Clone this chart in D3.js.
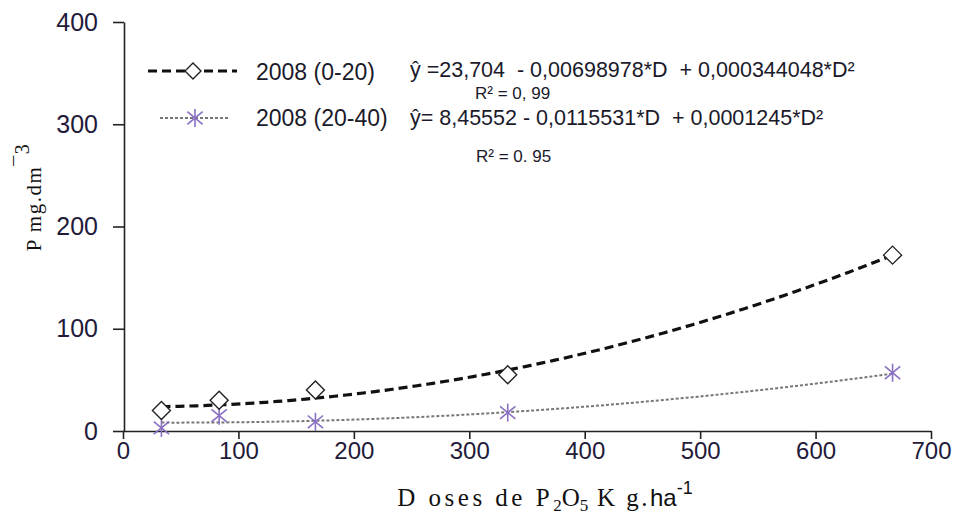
<!DOCTYPE html>
<html>
<head>
<meta charset="utf-8">
<script src="https://cdn.jsdelivr.net/npm/d3@7"></script>
<style>
  body { margin: 0; background: #fff; }
  svg { display: block; }
  text { white-space: pre; }
</style>
</head>
<body>
<div id="chart"></div>
<script>
// doses of P2O5 (kg/ha)
var doses = [33.3, 83.3, 166.7, 333.3, 666.7]
// observed P (mg/dm3)
var p0020 = [20, 30, 40, 55, 172]
var p2040 = [3, 15, 9, 18, 57]
// fitted quadratic coefficients  a + b*D + c*D^2
var coef0020 = [23.704, -0.00698978, 0.000344048]
var coef2040 = [8.45552, -0.0115531, 0.0001245]

var xTicks = [0, 100, 200, 300, 400, 500, 600, 700]
var yTicks = [0, 100, 200, 300, 400]

var W = 959, H = 519

var svg = d3.select("#chart").append("svg")
  .attr("width", W)
  .attr("height", H)

var x = d3.scaleLinear().domain([0, 700]).range([123, 931])
var y = d3.scaleLinear().domain([0, 400]).range([431, 22])

var tickColor = "#231a3a"

// y axis
var gy = svg.append("g")
  .attr("transform", "translate(124,0)")
  .call(d3.axisLeft(y).tickValues(yTicks).tickSize(11).tickSizeOuter(0).tickPadding(15))
gy.select(".domain").attr("stroke", "#222").attr("stroke-width", 1.6)
gy.selectAll(".tick line").attr("stroke", "#222").attr("stroke-width", 1.6)
gy.selectAll(".tick text")
  .attr("font-family", "Liberation Sans, Arial, sans-serif")
  .attr("font-size", 25)
  .attr("fill", tickColor)

// x axis
var gx = svg.append("g")
  .attr("transform", "translate(0,431)")
  .call(d3.axisBottom(x).tickValues(xTicks).tickSize(8).tickSizeOuter(0).tickPadding(3))
gx.select(".domain").attr("stroke", "#222").attr("stroke-width", 1.6)
gx.selectAll(".tick line").attr("stroke", "#222").attr("stroke-width", 1.6)
gx.selectAll(".tick text")
  .attr("font-family", "Liberation Sans, Arial, sans-serif")
  .attr("font-size", 24)
  .attr("fill", tickColor)

// fitted curves
var fit = function (c) {
  return function (d) { return c[0] + c[1] * d + c[2] * d * d }
}
var curveX = d3.range(doses[0], doses[doses.length - 1] + 0.01, 5)
curveX.push(doses[doses.length - 1])

var line = function (f) {
  return d3.line().x(d => x(d)).y(d => y(f(d)))
}

svg.append("path")
  .attr("d", line(fit(coef2040))(curveX))
  .attr("fill", "none")
  .attr("stroke", "#777")
  .attr("stroke-width", 2)
  .attr("stroke-dasharray", "3,2")

svg.append("path")
  .attr("d", line(fit(coef0020))(curveX))
  .attr("fill", "none")
  .attr("stroke", "#111")
  .attr("stroke-width", 3.2)
  .attr("stroke-dasharray", "9,5")

// markers
var starColor = "#8a6fc3"
var drawStar = function (g, cx, cy, r) {
  g.append("line").attr("x1", cx).attr("y1", cy - r).attr("x2", cx).attr("y2", cy + r)
  g.append("line").attr("x1", cx - r * 0.85).attr("y1", cy - r * 0.7).attr("x2", cx + r * 0.85).attr("y2", cy + r * 0.7)
  g.append("line").attr("x1", cx - r * 0.85).attr("y1", cy + r * 0.7).attr("x2", cx + r * 0.85).attr("y2", cy - r * 0.7)
}
var drawDiamond = function (g, cx, cy, r) {
  g.append("path")
    .attr("d", `M${cx},${cy - r}L${cx + r},${cy}L${cx},${cy + r}L${cx - r},${cy}Z`)
}

var stars = svg.append("g").attr("stroke", starColor).attr("stroke-width", 1.6)
doses.forEach(function (d, i) { drawStar(stars, x(d), y(p2040[i]), 9) })

var diamonds = svg.append("g").attr("stroke", "#222").attr("stroke-width", 1.4).attr("fill", "#fff")
doses.forEach(function (d, i) { drawDiamond(diamonds, x(d), y(p0020[i]), 9) })

// legend
var font = "Liberation Sans, Arial, sans-serif"
var leg = svg.append("g")
leg.append("line").attr("x1", 148).attr("x2", 237).attr("y1", 71).attr("y2", 71)
  .attr("stroke", "#111").attr("stroke-width", 3.2).attr("stroke-dasharray", "9,5")
drawDiamond(leg.append("g").attr("stroke", "#222").attr("stroke-width", 1.4).attr("fill", "#fff"), 193, 71, 8)
leg.append("line").attr("x1", 160).attr("x2", 228).attr("y1", 118).attr("y2", 118)
  .attr("stroke", "#777").attr("stroke-width", 2).attr("stroke-dasharray", "3,2")
drawStar(leg.append("g").attr("stroke", starColor).attr("stroke-width", 1.6), 195, 118, 9)

var legText = function (tx, ty, s, size) {
  return leg.append("text").attr("x", tx).attr("y", ty)
    .attr("font-family", font).attr("font-size", size).attr("fill", "#1a1a2a")
    .text(s)
}
legText(256, 80, "2008 (0-20)", 23)
legText(256, 126, "2008 (20-40)", 23)
legText(410, 77, "ŷ =23,704  - 0,00698978*D  + 0,000344048*D²", 21.5)
legText(475, 99, "R² = 0, 99", 17)
legText(410, 125, "ŷ= 8,45552 - 0,0115531*D  + 0,0001245*D²", 21.5)
legText(476, 162, "R² = 0. 95", 17)

// y title
var yt = svg.append("text")
  .attr("transform", "translate(41,197) rotate(-90)")
  .attr("text-anchor", "middle")
  .attr("font-family", "Liberation Serif, Times New Roman, serif")
  .attr("font-size", 21)
  .attr("letter-spacing", 1.5)
  .attr("fill", "#111")
yt.append("tspan").text("P mg.dm")
yt.append("tspan").attr("dy", -12).attr("font-size", 20).text("\u00af3")

// x title
var xt = svg.append("text")
  .attr("x", 545).attr("y", 506)
  .attr("text-anchor", "middle")
  .attr("font-family", "Liberation Serif, Times New Roman, serif")
  .attr("font-size", 25)
  .attr("fill", "#111")
xt.append("tspan").attr("letter-spacing", 3.5).text("D oses de P")
xt.append("tspan").attr("font-size", 17).attr("dy", 5).text("2")
xt.append("tspan").attr("dy", -5).text("O")
xt.append("tspan").attr("font-size", 17).attr("dy", 5).text("5")
xt.append("tspan").attr("dy", -5).attr("letter-spacing", 2.5).text(" K g.")
xt.append("tspan").attr("font-family", font).attr("font-size", 24).text("ha")
xt.append("tspan").attr("font-family", font).attr("font-size", 18).attr("dy", -12).text("-1")
</script>
</body>
</html>
